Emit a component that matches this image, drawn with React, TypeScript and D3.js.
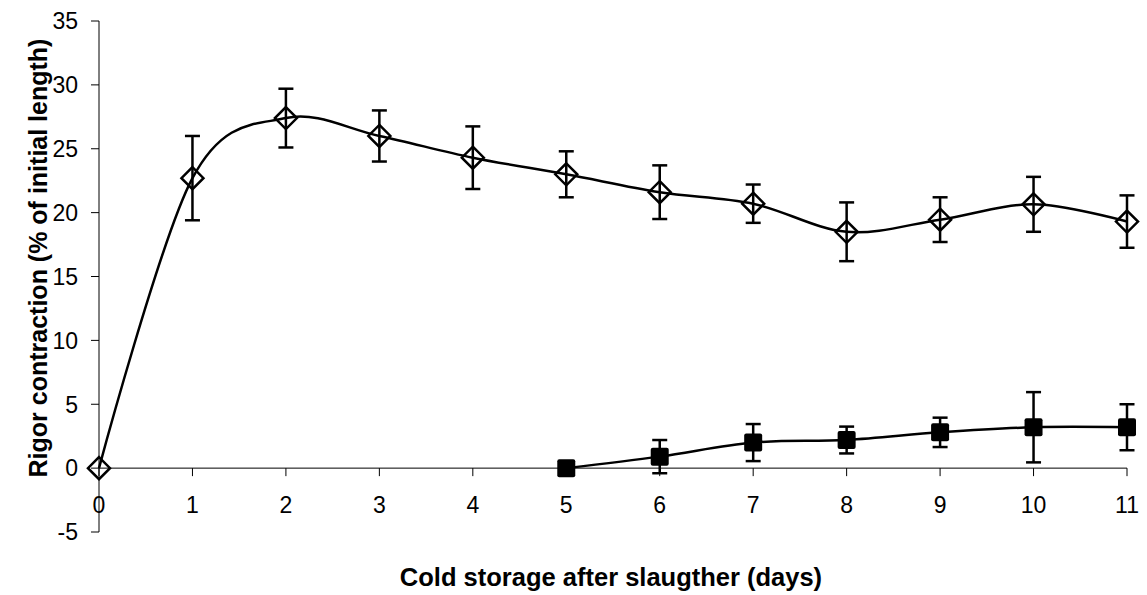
import React, { useEffect, useRef } from "react";
import * as d3 from "d3";

const days = [0, 1, 2, 3, 4, 5, 6, 7, 8, 9, 10, 11];
const openValues = [0, 22.7, 27.4, 26.0, 24.3, 23.0, 21.6, 20.7, 18.5, 19.45, 20.65, 19.3];
const openErrors = [0, 3.3, 2.3, 2.0, 2.45, 1.8, 2.1, 1.5, 2.3, 1.75, 2.15, 2.05];
const filledDays = [5, 6, 7, 8, 9, 10, 11];
const filledValues = [0, 0.9, 2.0, 2.2, 2.8, 3.2, 3.2];
const filledErrors = [0, 1.3, 1.45, 1.05, 1.15, 2.75, 1.8];
const yTicks = [-5, 0, 5, 10, 15, 20, 25, 30, 35];

const WIDTH = 1147;
const HEIGHT = 595;

export default function App() {
  const svgRef = useRef<SVGSVGElement>(null);

  useEffect(() => {
    const svg = d3.select(svgRef.current);
    svg.selectAll("*").remove();

    const x = d3.scaleLinear().domain([0, 11]).range([99, 1127]);
    const y = d3.scaleLinear().domain([-5, 35]).range([532, 21]);
    const font = "Arial, 'Liberation Sans', sans-serif";

    const g = svg.append("g");

    // axes
    g.append("line")
      .attr("x1", x(0)).attr("x2", x(0))
      .attr("y1", y(35)).attr("y2", y(-5))
      .attr("stroke", "#000").attr("stroke-width", 1);
    g.append("line")
      .attr("x1", x(0)).attr("x2", x(11))
      .attr("y1", y(0)).attr("y2", y(0))
      .attr("stroke", "#000").attr("stroke-width", 1);

    g.selectAll(".ytick")
      .data(yTicks)
      .join("line")
      .attr("x1", x(0) - 8).attr("x2", x(0))
      .attr("y1", (d) => y(d)).attr("y2", (d) => y(d))
      .attr("stroke", "#000");
    g.selectAll(".ylabel")
      .data(yTicks)
      .join("text")
      .attr("x", 78)
      .attr("y", (d) => y(d))
      .attr("dy", "0.36em")
      .attr("text-anchor", "end")
      .attr("font-family", font)
      .attr("font-size", 23)
      .text((d) => d);

    g.selectAll(".xtick")
      .data(days)
      .join("line")
      .attr("x1", (d) => x(d)).attr("x2", (d) => x(d))
      .attr("y1", y(0)).attr("y2", y(0) + 8)
      .attr("stroke", "#000");
    g.selectAll(".xlabel")
      .data(days)
      .join("text")
      .attr("x", (d) => x(d))
      .attr("y", 513)
      .attr("text-anchor", "middle")
      .attr("font-family", font)
      .attr("font-size", 23)
      .text((d) => d);

    g.append("text")
      .attr("x", 611)
      .attr("y", 586)
      .attr("text-anchor", "middle")
      .attr("font-family", font)
      .attr("font-size", 25.5)
      .attr("font-weight", "bold")
      .text("Cold storage after slaugther (days)");

    g.append("text")
      .attr("transform", `translate(47, 258) rotate(-90)`)
      .attr("text-anchor", "middle")
      .attr("font-family", font)
      .attr("font-size", 25)
      .attr("font-weight", "bold")
      .text("Rigor contraction (% of initial length)");

    // lines
    const line = d3
      .line<[number, number]>()
      .x((d) => x(d[0]))
      .y((d) => y(d[1]))
      .curve(d3.curveCardinal.tension(0));

    g.append("path")
      .attr("d", line(days.map((d, i) => [d, openValues[i]])))
      .attr("fill", "none")
      .attr("stroke", "#000")
      .attr("stroke-width", 2.5);

    g.append("path")
      .attr("d", line(filledDays.map((d, i) => [d, filledValues[i]])))
      .attr("fill", "none")
      .attr("stroke", "#000")
      .attr("stroke-width", 2.5);

    // error bars
    const drawErrors = (xs: number[], vals: number[], errs: number[]) => {
      xs.forEach((d, i) => {
        if (!errs[i]) return;
        const cx = x(d);
        const top = y(vals[i] + errs[i]);
        const bot = y(vals[i] - errs[i]);
        g.append("line").attr("x1", cx).attr("x2", cx).attr("y1", top).attr("y2", bot)
          .attr("stroke", "#000").attr("stroke-width", 2.5);
        [top, bot].forEach((yy) => {
          g.append("line").attr("x1", cx - 7.5).attr("x2", cx + 7.5).attr("y1", yy).attr("y2", yy)
            .attr("stroke", "#000").attr("stroke-width", 2.5);
        });
      });
    };
    drawErrors(days, openValues, openErrors);
    drawErrors(filledDays, filledValues, filledErrors);

    // markers
    g.selectAll(".diamond")
      .data(days)
      .join("path")
      .attr("d", (d, i) => {
        const cx = x(d);
        const cy = y(openValues[i]);
        const r = 11;
        return `M${cx},${cy - r}L${cx + r},${cy}L${cx},${cy + r}L${cx - r},${cy}Z`;
      })
      .attr("fill", "none")
      .attr("stroke", "#000")
      .attr("stroke-width", 2.5);

    g.selectAll(".square")
      .data(filledDays)
      .join("rect")
      .attr("x", (d) => x(d) - 9)
      .attr("y", (d, i) => y(filledValues[i]) - 9)
      .attr("width", 18)
      .attr("height", 18)
      .attr("rx", 2)
      .attr("fill", "#000");
  }, []);

  return (
    <div style={{ position: "absolute", left: 0, top: 0 }}>
      <svg ref={svgRef} width={WIDTH} height={HEIGHT} style={{ display: "block", background: "#fff" }}></svg>
    </div>
  );
}
